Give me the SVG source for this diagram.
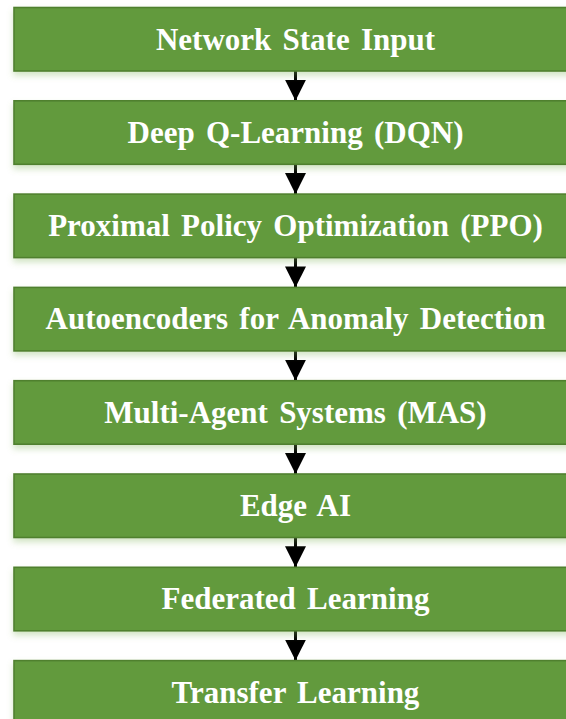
<svg xmlns="http://www.w3.org/2000/svg" width="566" height="719" viewBox="0 0 566 719">
<defs>
<style>
.box{fill:#629A3E;stroke:#50802F;stroke-width:1.6;filter:url(#sh)}
.lbl{font-family:"Liberation Serif","Times New Roman",serif;font-weight:bold;font-size:31px;fill:#FFFFFF;text-anchor:middle;word-spacing:3.5px}
.con{stroke:#000;stroke-width:3;fill:none;marker-end:url(#ah)}
</style>
<filter id="sh" x="-5%" y="-20%" width="110%" height="160%">
<feDropShadow dx="0" dy="4" stdDeviation="3" flood-color="#7FB35A" flood-opacity="0.35"/>
</filter>
<marker id="ah" markerUnits="userSpaceOnUse" markerWidth="21" markerHeight="21" refX="21" refY="10.5" orient="auto">
<path d="M0,0 L21,10.5 L0,21 Z" fill="#000"/>
</marker>
</defs>
<rect width="566" height="719" fill="#FFFFFF"/>
<g id="connectors">
<line class="con" x1="295.5" y1="71" x2="295.5" y2="100.8"/>
<line class="con" x1="295.5" y1="164.3" x2="295.5" y2="194.1"/>
<line class="con" x1="295.5" y1="257.6" x2="295.5" y2="287.4"/>
<line class="con" x1="295.5" y1="350.9" x2="295.5" y2="380.7"/>
<line class="con" x1="295.5" y1="444.2" x2="295.5" y2="474"/>
<line class="con" x1="295.5" y1="537.5" x2="295.5" y2="567.3"/>
<line class="con" x1="295.5" y1="630.8" x2="295.5" y2="660.6"/>
</g>
<g id="n1"><rect class="box" x="14" y="7.5" width="564" height="63.5"/><text class="lbl" x="295.5" y="49.5">Network State Input</text></g>
<g id="n2"><rect class="box" x="14" y="100.8" width="564" height="63.5"/><text class="lbl" x="295.5" y="142.8">Deep Q-Learning (DQN)</text></g>
<g id="n3"><rect class="box" x="14" y="194.1" width="564" height="63.5"/><text class="lbl" x="295.5" y="236.1">Proximal Policy Optimization (PPO)</text></g>
<g id="n4"><rect class="box" x="14" y="287.4" width="564" height="63.5"/><text class="lbl" x="295.5" y="329.4">Autoencoders for Anomaly Detection</text></g>
<g id="n5"><rect class="box" x="14" y="380.7" width="564" height="63.5"/><text class="lbl" x="295.5" y="422.7">Multi-Agent Systems (MAS)</text></g>
<g id="n6"><rect class="box" x="14" y="474" width="564" height="63.5"/><text class="lbl" x="295.5" y="516">Edge AI</text></g>
<g id="n7"><rect class="box" x="14" y="567.3" width="564" height="63.5"/><text class="lbl" x="295.5" y="609.3">Federated Learning</text></g>
<g id="n8"><rect class="box" x="14" y="660.6" width="564" height="63.5"/><text class="lbl" x="295.5" y="702.6">Transfer Learning</text></g>
</svg>
